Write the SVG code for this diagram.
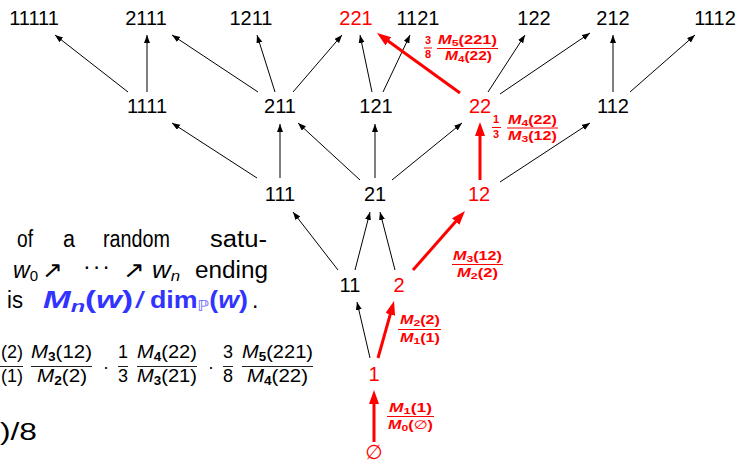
<svg xmlns="http://www.w3.org/2000/svg" width="739" height="463" viewBox="0 0 739 463">
<style>
.n{font-family:"Liberation Sans",Arial,sans-serif;font-size:20px;text-anchor:middle;fill:#000}
.r{fill:#f00}
.e{stroke:#000;stroke-width:1;fill:none;marker-end:url(#ah)}
.re{stroke:#f00;stroke-width:3;fill:none;marker-end:url(#rh)}
.lab{font-family:"Liberation Sans",Arial,sans-serif;font-weight:bold;font-size:12px;fill:#f00}
.lf{font-family:"Liberation Sans",Arial,sans-serif;font-weight:bold;font-size:11px;fill:#f00;text-anchor:middle}
.rb{stroke:#f00;stroke-width:1}
.kb{stroke:#222;stroke-width:1}
.t{font-family:"Liberation Sans",Arial,sans-serif;font-size:23px;fill:#000}
.f{font-family:"Liberation Sans",Arial,sans-serif;font-size:18px;fill:#000}
.fc{font-family:"Liberation Sans",Arial,sans-serif;font-size:18px;fill:#000;text-anchor:middle}
.bl{font-family:"Liberation Sans",Arial,sans-serif;font-size:24px;font-weight:bold;fill:#3333ff}
.sym{font-family:"DejaVu Sans",sans-serif}
</style>
<defs>
<marker id="ah" markerUnits="userSpaceOnUse" markerWidth="9" markerHeight="7" refX="8" refY="3" orient="auto"><path d="M0,0 L8,3 L0,6 z" fill="#000"/></marker>
<marker id="rh" markerUnits="userSpaceOnUse" markerWidth="15" markerHeight="11" refX="5" refY="5" orient="auto"><path d="M0,0 L14,5 L0,10 z" fill="#f00"/></marker>
</defs>

<g id="connectors">
<line class="e" x1="128" y1="92" x2="55" y2="35"/>
<line class="e" x1="147" y1="92" x2="147" y2="35"/>
<line class="e" x1="258" y1="92" x2="172" y2="35"/>
<line class="e" x1="275" y1="92" x2="257" y2="35"/>
<line class="e" x1="293" y1="92" x2="342" y2="35"/>
<line class="e" x1="372" y1="92" x2="360" y2="35"/>
<line class="e" x1="383" y1="92" x2="410" y2="35"/>
<line class="e" x1="488" y1="92" x2="525" y2="35"/>
<line class="e" x1="500" y1="94" x2="590" y2="33"/>
<line class="e" x1="613" y1="92" x2="613" y2="35"/>
<line class="e" x1="630" y1="92" x2="695" y2="35"/>
<line class="e" x1="257" y1="178" x2="172" y2="123"/>
<line class="e" x1="280" y1="178" x2="280" y2="124"/>
<line class="e" x1="360" y1="180" x2="298" y2="123"/>
<line class="e" x1="375" y1="178" x2="375" y2="124"/>
<line class="e" x1="392" y1="180" x2="462" y2="123"/>
<line class="e" x1="500" y1="182" x2="590" y2="123"/>
<line class="e" x1="338" y1="270" x2="293" y2="212"/>
<line class="e" x1="355" y1="270" x2="370" y2="212"/>
<line class="e" x1="395" y1="270" x2="380" y2="212"/>
<line class="e" x1="370" y1="358" x2="357" y2="302"/>
<line class="re" x1="374" y1="442" x2="374" y2="399"/>
<line class="re" x1="378" y1="358" x2="391.6" y2="309.7"/>
<line class="re" x1="413" y1="270" x2="459" y2="217.8"/>
<line class="re" x1="480" y1="180" x2="480" y2="131"/>
<line class="re" x1="460" y1="93" x2="384.3" y2="38.3"/>
</g>

<g id="n11111"><text class="n" x="34" y="25">11111</text></g>
<g id="n2111"><text class="n" x="146" y="25">2111</text></g>
<g id="n1211"><text class="n" x="251" y="25">1211</text></g>
<g id="n221"><text class="n r" x="356" y="25">221</text></g>
<g id="n1121"><text class="n" x="418" y="25">1121</text></g>
<g id="n122"><text class="n" x="534" y="25">122</text></g>
<g id="n212"><text class="n" x="613" y="25">212</text></g>
<g id="n1112"><text class="n" x="715" y="25">1112</text></g>
<g id="n1111"><text class="n" x="147" y="113">1111</text></g>
<g id="n211"><text class="n" x="280" y="113">211</text></g>
<g id="n121"><text class="n" x="376" y="113">121</text></g>
<g id="n22"><text class="n r" x="480" y="113">22</text></g>
<g id="n112"><text class="n" x="613" y="113">112</text></g>
<g id="n111"><text class="n" x="280" y="201">111</text></g>
<g id="n21"><text class="n" x="375" y="201">21</text></g>
<g id="n12"><text class="n r" x="479" y="201">12</text></g>
<g id="n11"><text class="n" x="350" y="292">11</text></g>
<g id="n2"><text class="n r" x="399" y="292">2</text></g>
<g id="n1"><text class="n r" x="374" y="381">1</text></g>
<g id="nempty"><text class="n r sym" x="374" y="459" font-size="15">∅</text></g>

<g id="edge-labels">
<text class="lf" x="428" y="44">3</text>
<line class="rb" x1="424" y1="48" x2="432" y2="48"/>
<text class="lf" x="428" y="58">8</text>
<text class="lab" x="438" y="44" textLength="59" lengthAdjust="spacingAndGlyphs"><tspan font-style="italic">M</tspan><tspan font-size="9" dy="1.5">5</tspan><tspan dy="-1.5">(221)</tspan></text>
<line class="rb" x1="437" y1="48.5" x2="498" y2="48.5"/>
<text class="lab" x="445" y="60" textLength="47" lengthAdjust="spacingAndGlyphs"><tspan font-style="italic">M</tspan><tspan font-size="9" dy="1.5">4</tspan><tspan dy="-1.5">(22)</tspan></text>

<text class="lf" x="496" y="123">1</text>
<line class="rb" x1="492" y1="127.5" x2="501" y2="127.5"/>
<text class="lf" x="496" y="138">3</text>
<text class="lab" x="508" y="124" textLength="49" lengthAdjust="spacingAndGlyphs"><tspan font-style="italic">M</tspan><tspan font-size="9" dy="1.5">4</tspan><tspan dy="-1.5">(22)</tspan></text>
<line class="rb" x1="507" y1="128" x2="558" y2="128"/>
<text class="lab" x="508" y="140" textLength="49" lengthAdjust="spacingAndGlyphs"><tspan font-style="italic">M</tspan><tspan font-size="9" dy="1.5">3</tspan><tspan dy="-1.5">(12)</tspan></text>

<text class="lab" x="453" y="260" textLength="49" lengthAdjust="spacingAndGlyphs"><tspan font-style="italic">M</tspan><tspan font-size="9" dy="1.5">3</tspan><tspan dy="-1.5">(12)</tspan></text>
<line class="rb" x1="452" y1="264.5" x2="503" y2="264.5"/>
<text class="lab" x="457" y="277" textLength="41" lengthAdjust="spacingAndGlyphs"><tspan font-style="italic">M</tspan><tspan font-size="9" dy="1.5">2</tspan><tspan dy="-1.5">(2)</tspan></text>

<text class="lab" x="400" y="324" textLength="40" lengthAdjust="spacingAndGlyphs"><tspan font-style="italic">M</tspan><tspan font-size="9" dy="1.5">2</tspan><tspan dy="-1.5">(2)</tspan></text>
<line class="rb" x1="398" y1="329.5" x2="441" y2="329.5"/>
<text class="lab" x="400" y="342" textLength="40" lengthAdjust="spacingAndGlyphs"><tspan font-style="italic">M</tspan><tspan font-size="9" dy="1.5">1</tspan><tspan dy="-1.5">(1)</tspan></text>

<text class="lab" x="389" y="412" textLength="43" lengthAdjust="spacingAndGlyphs"><tspan font-style="italic">M</tspan><tspan font-size="9" dy="1.5">1</tspan><tspan dy="-1.5">(1)</tspan></text>
<line class="rb" x1="387" y1="416.5" x2="434" y2="416.5"/>
<text class="lab" x="388" y="429" textLength="45" lengthAdjust="spacingAndGlyphs"><tspan font-style="italic">M</tspan><tspan font-size="9" dy="1.5">0</tspan><tspan dy="-1.5">(</tspan><tspan class="sym" font-weight="normal">∅</tspan><tspan>)</tspan></text>
</g>

<g id="text-block">
<text class="t" x="17" y="247" textLength="16" lengthAdjust="spacingAndGlyphs">of</text>
<text class="t" x="63" y="247" textLength="12" lengthAdjust="spacingAndGlyphs">a</text>
<text class="t" x="103" y="247" textLength="67" lengthAdjust="spacingAndGlyphs">random</text>
<text class="t" x="210" y="247" textLength="57" lengthAdjust="spacingAndGlyphs">satu-</text>

<text class="t" x="13" y="278" textLength="25" lengthAdjust="spacingAndGlyphs"><tspan font-style="italic">w</tspan><tspan font-size="15" dy="3">0</tspan></text>
<text class="t sym" x="42" y="278" font-size="18" textLength="21" lengthAdjust="spacingAndGlyphs">↗</text>
<text class="t" x="83" y="274" textLength="27" lengthAdjust="spacing">···</text>
<text class="t sym" x="123" y="278" font-size="18" textLength="22" lengthAdjust="spacingAndGlyphs">↗</text>
<text class="t" x="152" y="278" textLength="28" lengthAdjust="spacingAndGlyphs"><tspan font-style="italic">w</tspan><tspan font-size="15" font-style="italic" dy="3">n</tspan></text>
<text class="t" x="195" y="278" textLength="73" lengthAdjust="spacingAndGlyphs">ending</text>

<text class="t" x="7" y="308" textLength="16" lengthAdjust="spacingAndGlyphs">is</text>
<text class="bl" x="43" y="308" textLength="90" lengthAdjust="spacingAndGlyphs"><tspan font-style="italic">M</tspan><tspan font-style="italic" font-size="17" dy="4">n</tspan><tspan dy="-4">(</tspan><tspan font-style="italic">w</tspan><tspan>)</tspan></text>
<text class="bl" x="135" y="308" style="font-weight:normal" textLength="10" lengthAdjust="spacingAndGlyphs">/</text>
<text class="bl" x="150" y="308" textLength="98" lengthAdjust="spacingAndGlyphs"><tspan>dim</tspan><tspan class="sym" font-weight="normal" font-size="15" dy="3" fill="#6b6bff">ℙ</tspan><tspan dy="-3">(</tspan><tspan font-style="italic">w</tspan><tspan>)</tspan></text>
<text class="t" x="252" y="308">.</text>

<text class="f" x="23" y="358" text-anchor="end">(2)</text>
<line class="kb" x1="0" y1="366.5" x2="23" y2="366.5"/>
<text class="f" x="23" y="382" text-anchor="end">(1)</text>

<text class="f" x="31" y="358" textLength="61" lengthAdjust="spacingAndGlyphs"><tspan font-style="italic">M</tspan><tspan font-weight="bold" font-size="12" dy="3">3</tspan><tspan dy="-3">(12)</tspan></text>
<line class="kb" x1="31" y1="366.5" x2="92" y2="366.5"/>
<text class="f" x="37" y="382" textLength="50" lengthAdjust="spacingAndGlyphs"><tspan font-style="italic">M</tspan><tspan font-weight="bold" font-size="12" dy="3">2</tspan><tspan dy="-3">(2)</tspan></text>
<text class="fc" x="106" y="373">·</text>

<text class="fc" x="123" y="358" font-size="16">1</text>
<line class="kb" x1="118" y1="366.5" x2="128" y2="366.5"/>
<text class="fc" x="123" y="382" font-size="16">3</text>
<text class="f" x="137" y="358" textLength="60" lengthAdjust="spacingAndGlyphs"><tspan font-style="italic">M</tspan><tspan font-weight="bold" font-size="12" dy="3">4</tspan><tspan dy="-3">(22)</tspan></text>
<line class="kb" x1="137" y1="366.5" x2="197" y2="366.5"/>
<text class="f" x="137" y="382" textLength="60" lengthAdjust="spacingAndGlyphs"><tspan font-style="italic">M</tspan><tspan font-weight="bold" font-size="12" dy="3">3</tspan><tspan dy="-3">(21)</tspan></text>
<text class="fc" x="211" y="373">·</text>

<text class="fc" x="228" y="358" font-size="16">3</text>
<line class="kb" x1="223" y1="366.5" x2="233" y2="366.5"/>
<text class="fc" x="228" y="382" font-size="16">8</text>
<text class="f" x="242" y="358" textLength="71" lengthAdjust="spacingAndGlyphs"><tspan font-style="italic">M</tspan><tspan font-weight="bold" font-size="12" dy="3">5</tspan><tspan dy="-3">(221)</tspan></text>
<line class="kb" x1="242" y1="366.5" x2="313" y2="366.5"/>
<text class="f" x="247" y="382" textLength="61" lengthAdjust="spacingAndGlyphs"><tspan font-style="italic">M</tspan><tspan font-weight="bold" font-size="12" dy="3">4</tspan><tspan dy="-3">(22)</tspan></text>

<text class="t" x="0" y="440" textLength="37" lengthAdjust="spacingAndGlyphs">)/8</text>
</g>
</svg>
